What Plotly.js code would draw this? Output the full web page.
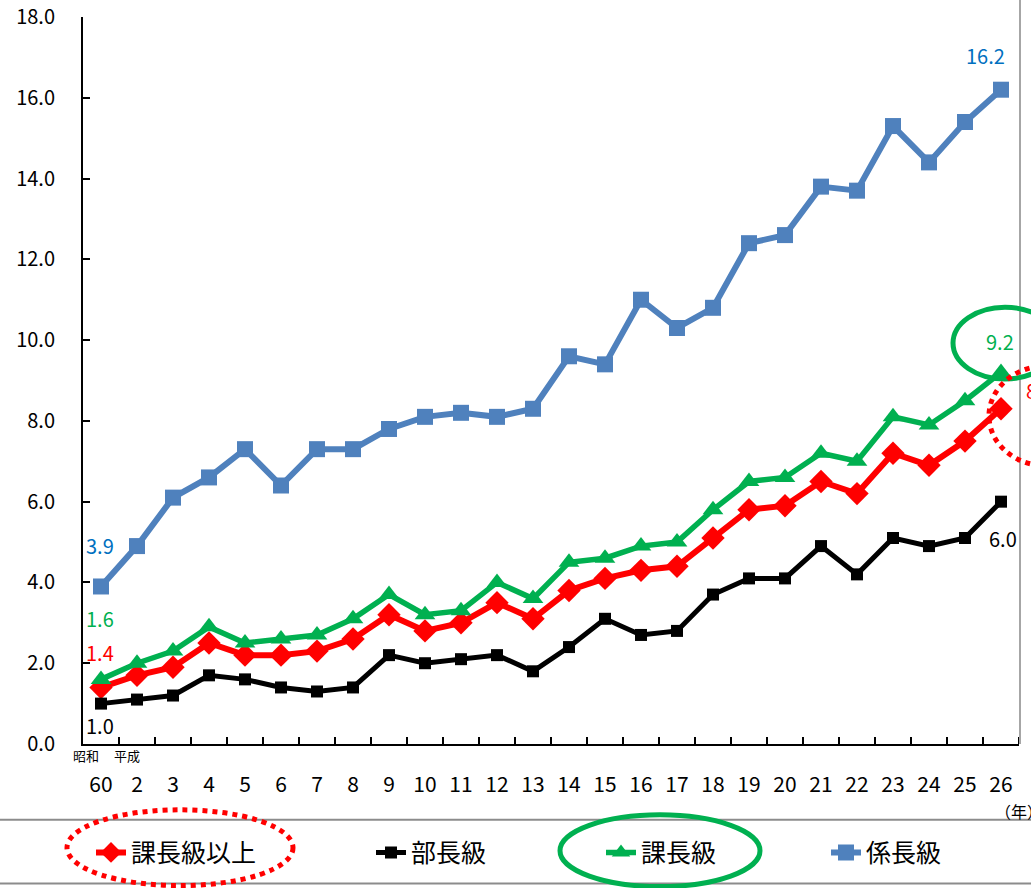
<!DOCTYPE html>
<html>
<head>
<meta charset="utf-8">
<script src="https://cdn.plot.ly/plotly-3.0.1.min.js"></script>
<style>
  html, body { margin: 0; padding: 0; background: #fff; }
  #chart { width: 1031px; height: 888px; }
</style>
</head>
<body>
<div id="chart"></div>
<script>
// 年（昭和60年、平成2年〜26年）
const years = ['60','2','3','4','5','6','7','8','9','10','11','12','13','14','15','16','17','18','19','20','21','22','23','24','25','26'];

// 役職別 女性管理職割合（%）
const kachoIjo = [1.4,1.7,1.9,2.5,2.2,2.2,2.3,2.6,3.2,2.8,3.0,3.5,3.1,3.8,4.1,4.3,4.4,5.1,5.8,5.9,6.5,6.2,7.2,6.9,7.5,8.3];
const bucho    = [1.0,1.1,1.2,1.7,1.6,1.4,1.3,1.4,2.2,2.0,2.1,2.2,1.8,2.4,3.1,2.7,2.8,3.7,4.1,4.1,4.9,4.2,5.1,4.9,5.1,6.0];
const kacho    = [1.6,2.0,2.3,2.9,2.5,2.6,2.7,3.1,3.7,3.2,3.3,4.0,3.6,4.5,4.6,4.9,5.0,5.8,6.5,6.6,7.2,7.0,8.1,7.9,8.5,9.2];
const kakari   = [3.9,4.9,6.1,6.6,7.3,6.4,7.3,7.3,7.8,8.1,8.2,8.1,8.3,9.6,9.4,11.0,10.3,10.8,12.4,12.6,13.8,13.7,15.3,14.4,15.4,16.2];

const seriesNames = ['課長級以上', '部長級', '課長級', '係長級'];
const yTicks = [0, 2, 4, 6, 8, 10, 12, 14, 16, 18];

const FONT = '"Noto Sans CJK JP", "Noto Sans", sans-serif';
const RED = '#FF0000', BLACK = '#000000', GREEN = '#00B050', BLUE = '#4F81BD', BLUE_TXT = '#0070C0';

// one slot per year on a numeric axis, labelled with the year text
const xPos = years.map((_, i) => i);
const boundaries = years.slice(1).map((_, i) => i + 0.5).concat([years.length - 0.5]);

// plot area in pixels
const L = 83, R = 1019, T = 17, B = 746;
const PX = x => (x - L) / (R - L);
const PY = y => (B - y) / (B - T);

const traces = [
  { name: seriesNames[0], y: kachoIjo, legend: 'legend',
    line: { color: RED, width: 6 }, marker: { symbol: 'diamond', size: 18, color: RED } },
  { name: seriesNames[1], y: bucho, legend: 'legend2',
    line: { color: BLACK, width: 5 }, marker: { symbol: 'square', size: 12, color: BLACK } },
  { name: seriesNames[2], y: kacho, legend: 'legend3',
    line: { color: GREEN, width: 5.5 }, marker: { symbol: 'triangle-up', size: 18, color: GREEN } },
  { name: seriesNames[3], y: kakari, legend: 'legend4',
    line: { color: BLUE, width: 6 }, marker: { symbol: 'square', size: 16, color: BLUE } }
].map(t => Object.assign({ type: 'scatter', mode: 'lines+markers', x: xPos, cliponaxis: false, hoverinfo: 'skip' }, t));

// value labels at first and last year
const last = years.length - 1;
function valueLabel(idx, arr, color, dx, dy) {
  return { x: xPos[idx], y: arr[idx], xref: 'x', yref: 'y', text: arr[idx].toFixed(1),
    xanchor: 'center', yanchor: 'middle',
    showarrow: false, xshift: dx, yshift: dy, font: { family: FONT, size: 20, color: color } };
}
function pageText(x, y, text, size, xanchor) {
  return { xref: 'paper', yref: 'paper', x: PX(x), y: PY(y), text: text, showarrow: false,
    xanchor: xanchor || 'center', yanchor: 'middle', font: { family: FONT, size: size, color: BLACK } };
}
const annotations = [
  valueLabel(0, kakari, BLUE_TXT, -1, 41),
  valueLabel(0, kacho, GREEN, -1, 61),
  valueLabel(0, kachoIjo, RED, -1, 35),
  valueLabel(0, bucho, BLACK, -1, -22),
  valueLabel(last, kakari, BLUE_TXT, -16, 34),
  valueLabel(last, kacho, GREEN, -1, 31),
  valueLabel(last, kachoIjo, RED, 39, 18),
  valueLabel(last, bucho, BLACK, 2, -37),
  pageText(86, 758, '昭和', 13),
  pageText(127, 758, '平成', 13),
  pageText(993, 813, '（年）', 16, 'left')
];

function ellipse(cx, cy, rx, ry, color, dash) {
  return { type: 'circle', xref: 'paper', yref: 'paper',
    x0: PX(cx - rx), x1: PX(cx + rx), y0: PY(cy + ry), y1: PY(cy - ry),
    line: { color: color, width: 5, dash: dash } };
}
function hline(y) {
  return { type: 'line', xref: 'paper', yref: 'paper', x0: PX(0), x1: PX(1031), y0: PY(y), y1: PY(y),
    line: { color: '#8C8C8C', width: 2 } };
}

const shapes = [
  { type: 'line', xref: 'paper', yref: 'paper', x0: PX(1020), x1: PX(1020), y0: 0, y1: PY(0),
    line: { color: '#A6A6A6', width: 2 } },
  hline(822), hline(886),
  ellipse(1005, 344, 52, 36, GREEN, 'solid'),
  ellipse(1046, 417, 57, 50, RED, 'dot'),
  ellipse(180, 850, 113, 38, RED, 'dot'),
  ellipse(660, 853, 100, 36, GREEN, 'solid')
];

function legendAt(textStartPx) {
  return { orientation: 'h', x: PX(textStartPx - 42), xanchor: 'left', y: PY(855), yanchor: 'middle',
    bgcolor: 'rgba(0,0,0,0)', font: { family: FONT, size: 25, color: BLACK } };
}

const layout = {
  width: 1031, height: 888,
  margin: { l: L, r: 1031 - R, t: T, b: 888 - B },
  paper_bgcolor: '#ffffff', plot_bgcolor: '#ffffff',
  font: { family: FONT, color: BLACK },
  showlegend: true,
  legend: legendAt(133),
  legend2: legendAt(413),
  legend3: legendAt(643),
  legend4: legendAt(868),
  xaxis: {
    type: 'linear', range: [-0.5, years.length - 0.5], autorange: false,
    tickvals: xPos, ticktext: years, tickangle: 0, ticks: '',
    showgrid: false, zeroline: false,
    showline: true, linecolor: BLACK, linewidth: 2,
    minor: { tickvals: boundaries, ticks: 'inside', ticklen: 7, tickwidth: 2, tickcolor: BLACK, showgrid: false },
    tickfont: { family: FONT, size: 21, color: BLACK }, ticklabelstandoff: 21,
    fixedrange: true
  },
  yaxis: {
    range: [0, 18], autorange: false, tickvals: yTicks, tickformat: '.1f', showgrid: false, zeroline: false,
    showline: true, linecolor: BLACK, linewidth: 2,
    ticks: 'inside', ticklen: 7, tickwidth: 2, tickcolor: BLACK,
    tickfont: { family: FONT, size: 20, color: BLACK }, ticklabelstandoff: 22,
    fixedrange: true
  },
  annotations: annotations,
  shapes: shapes
};

Plotly.newPlot('chart', traces, layout, { displayModeBar: false, staticPlot: true });
</script>
</body>
</html>
